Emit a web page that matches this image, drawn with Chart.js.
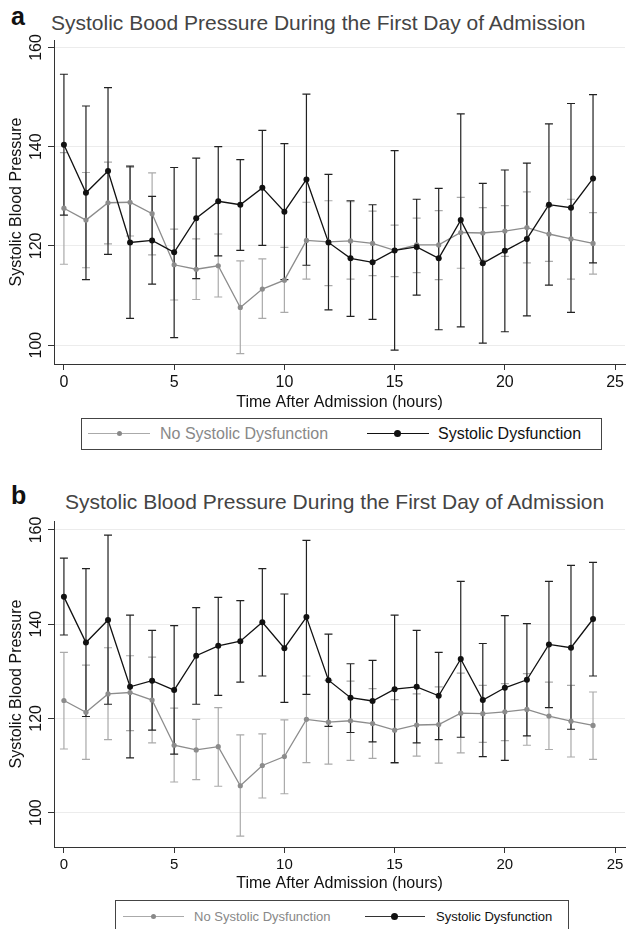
<!DOCTYPE html>
<html>
<head>
<meta charset="utf-8">
<script src="https://cdn.jsdelivr.net/npm/chart.js@4.4.1/dist/chart.umd.min.js"></script>
<style>
  body { margin: 0; background: #fff; font-family: "Liberation Sans", Arial, sans-serif; }
  #page { position: relative; width: 629px; height: 929px; overflow: hidden; }
  canvas { position: absolute; left: 0; }
  .abs { position: absolute; white-space: nowrap; }
  .letter { font-size: 25px; font-weight: bold; color: #111; line-height: 25px; }
  .title { font-size: 21px; color: #444; line-height: 21px; }
  .legbox { position: absolute; border: 1px solid #444; box-sizing: border-box; }
  .legline { position: absolute; height: 0; border-top: 1.3px solid; }
  .legdot { position: absolute; border-radius: 50%; }
</style>
</head>
<body>
<div id="page">
  <div class="abs letter" style="left:11px; top:4px;">a</div>
  <div class="abs title" style="left:51px; top:12px;">Systolic Bood Pressure During the First Day of Admission</div>
  <canvas id="chartA" width="629" height="412" style="top:0px"></canvas>

  <div class="legbox" style="left:81px; top:418px; width:521px; height:32px;"></div>
  <div class="legline" style="left:88px; top:433px; width:62px; border-color:#aaa;"></div>
  <div class="legdot" style="left:117px; top:431px; width:5px; height:5px; background:#888;"></div>
  <div class="abs" style="left:160px; top:426px; font-size:16px; line-height:16px; color:#888;">No Systolic Dysfunction</div>
  <div class="legline" style="left:367px; top:433px; width:62px; border-color:#111;"></div>
  <div class="legdot" style="left:394px; top:430px; width:7px; height:7px; background:#111;"></div>
  <div class="abs" style="left:438px; top:426px; font-size:16px; line-height:16px; color:#111;">Systolic Dysfunction</div>

  <div class="abs letter" style="left:11px; top:483px;">b</div>
  <div class="abs title" style="left:65px; top:491px;">Systolic Blood Pressure During the First Day of Admission</div>
  <canvas id="chartB" width="629" height="433" style="top:460px"></canvas>

  <div class="legbox" style="left:115px; top:900px; width:454px; height:32px;"></div>
  <div class="legline" style="left:123px; top:916px; width:61px; border-color:#aaa;"></div>
  <div class="legdot" style="left:151px; top:914px; width:5px; height:5px; background:#888;"></div>
  <div class="abs" style="left:194px; top:910px; font-size:13px; line-height:13px; color:#888;">No Systolic Dysfunction</div>
  <div class="legline" style="left:365px; top:916px; width:60px; border-color:#333;"></div>
  <div class="legdot" style="left:391px; top:913px; width:7px; height:7px; background:#111;"></div>
  <div class="abs" style="left:436px; top:910px; font-size:13px; line-height:13px; color:#111;">Systolic Dysfunction</div>
</div>

<script>
// hours after admission (x values) and axis ticks
const hours = [0, 1, 2, 3, 4, 5, 6, 7, 8, 9, 10, 11, 12, 13, 14, 15, 16, 17, 18, 19, 20, 21, 22, 23, 24];
const xTicks = [0, 5, 10, 15, 20, 25];
const yTicks = [100, 120, 140, 160];

// Panel a - Systolic Dysfunction (black)
const aSdMean = [140.4, 130.7, 135.1, 120.7, 121.1, 118.7, 125.6, 129.0, 128.3, 131.7, 126.9, 133.4, 120.7, 117.5, 116.7, 119.1, 119.8, 117.5, 125.2, 116.5, 119.0, 121.4, 128.3, 127.7, 133.6];
const aSdHigh = [154.6, 148.2, 151.9, 136.1, 130.0, 135.8, 137.7, 140.0, 137.4, 143.3, 140.6, 150.6, 134.4, 129.1, 128.3, 139.2, 129.4, 131.6, 146.6, 132.6, 135.3, 136.7, 144.6, 148.7, 150.5];
const aSdLow  = [126.2, 113.2, 118.3, 105.4, 112.3, 101.5, 113.4, 118.0, 119.1, 120.1, 113.2, 116.1, 107.1, 105.8, 105.2, 99.0, 110.1, 103.1, 103.7, 100.4, 102.7, 105.9, 112.1, 106.6, 116.6];

// Panel a - No Systolic Dysfunction (gray)
const aNoMean = [127.6, 125.2, 128.7, 128.8, 126.5, 116.2, 115.3, 116.0, 107.6, 111.3, 113.1, 121.1, 120.8, 121.0, 120.5, 119.1, 120.2, 120.2, 122.7, 122.6, 123.0, 123.7, 122.4, 121.4, 120.5];
const aNoHigh = [138.8, 134.8, 136.9, 135.8, 134.7, 123.4, 121.4, 122.4, 117.0, 117.4, 119.7, 128.8, 129.1, 128.9, 127.0, 124.2, 125.6, 127.1, 129.8, 127.7, 128.1, 130.9, 128.0, 129.4, 126.7];
const aNoLow  = [116.3, 115.6, 120.4, 122.0, 118.2, 109.1, 109.2, 109.7, 98.3, 105.4, 106.6, 113.3, 112.0, 113.3, 114.0, 113.8, 114.6, 113.2, 115.5, 117.1, 117.9, 116.6, 116.9, 113.3, 114.3];

// Panel b - Systolic Dysfunction (black)
const bSdMean = [145.8, 136.1, 140.9, 126.7, 128.0, 126.0, 133.3, 135.4, 136.4, 140.4, 134.9, 141.5, 128.1, 124.4, 123.7, 126.2, 126.7, 124.8, 132.6, 123.9, 126.5, 128.2, 135.7, 135.0, 141.1];
const bSdHigh = [154.0, 151.8, 158.9, 141.9, 138.7, 139.7, 143.5, 145.7, 145.0, 151.8, 146.4, 157.8, 137.9, 131.6, 132.3, 141.9, 138.7, 134.0, 149.1, 135.9, 141.8, 140.1, 149.1, 152.5, 153.1];
const bSdLow  = [137.7, 120.4, 123.0, 111.6, 117.5, 112.4, 123.0, 124.9, 127.7, 129.0, 123.4, 125.1, 118.3, 117.0, 115.0, 110.6, 114.8, 115.5, 116.0, 111.9, 111.1, 116.3, 122.3, 117.7, 129.0];

// Panel b - No Systolic Dysfunction (gray)
const bNoMean = [123.8, 121.3, 125.2, 125.5, 123.9, 114.3, 113.3, 114.0, 105.7, 110.0, 111.9, 119.8, 119.2, 119.5, 118.9, 117.5, 118.6, 118.7, 121.1, 121.0, 121.4, 121.9, 120.5, 119.4, 118.5];
const bNoHigh = [134.0, 131.3, 135.0, 133.3, 133.0, 122.2, 119.8, 122.3, 116.5, 116.7, 119.7, 129.0, 128.1, 127.9, 126.3, 124.0, 125.2, 126.7, 129.6, 127.0, 127.4, 129.5, 127.7, 127.0, 125.6];
const bNoLow  = [113.5, 111.3, 115.5, 117.4, 114.8, 106.5, 107.0, 105.6, 95.0, 103.1, 104.0, 110.6, 110.3, 111.1, 111.5, 110.5, 112.0, 110.5, 112.7, 114.9, 115.3, 114.3, 113.4, 111.8, 111.3];

// draws the confidence interval caps behind the lines
const errorBars = {
    id: 'errorBars',
    beforeDatasetsDraw(chart) {
        const ctx = chart.ctx;
        const x = chart.scales.x;
        const y = chart.scales.y;
        // last dataset first so the black series sits on top
        for (let d = chart.data.datasets.length - 1; d >= 0; d--) {
            const ds = chart.data.datasets[d];
            ctx.save();
            ctx.strokeStyle = ds.barColor;
            ctx.lineWidth = 1.2;
            ds.low.forEach((lo, i) => {
                const px = x.getPixelForValue(hours[i]);
                const top = y.getPixelForValue(ds.high[i]);
                const bot = y.getPixelForValue(lo);
                ctx.beginPath();
                ctx.moveTo(px, top); ctx.lineTo(px, bot);
                ctx.moveTo(px - 4, top); ctx.lineTo(px + 4, top);
                ctx.moveTo(px - 4, bot); ctx.lineTo(px + 4, bot);
                ctx.stroke();
            });
            ctx.restore();
        }
    }
};

function series(label, mean, low, high, color, barColor, radius) {
    return {
        label: label,
        data: hours.map((h, i) => ({ x: h, y: mean[i] })),
        low: low,
        high: high,
        barColor: barColor,
        borderColor: color,
        backgroundColor: color,
        borderWidth: 1.3,
        pointRadius: radius,
        pointBorderWidth: 0,
        tension: 0
    };
}

function makeChart(id, sets, o) {
    new Chart(document.getElementById(id), {
        type: 'line',
        data: { datasets: sets },
        plugins: [errorBars],
        options: {
            responsive: false,
            animation: false,
            devicePixelRatio: 1,
            layout: { padding: { top: o.top, left: 0, right: 0, bottom: 0 } },
            plugins: { legend: { display: false }, tooltip: { enabled: false } },
            scales: {
                x: {
                    type: 'linear',
                    min: -0.45,
                    max: 25.45,
                    afterBuildTicks: s => { s.ticks = xTicks.map(v => ({ value: v })); },
                    afterFit: s => { s.height = o.xHeight; },
                    border: { color: '#333', width: 1 },
                    grid: { drawOnChartArea: false, tickLength: 6, tickColor: '#333' },
                    ticks: { font: { size: o.tickSize, family: 'Liberation Sans' }, color: '#111', padding: 3, maxRotation: 0 },
                    title: { display: true, text: 'Time After Admission (hours)', color: '#111',
                             font: { size: 16, family: 'Liberation Sans' }, padding: { top: 0, bottom: 0 } }
                },
                y: {
                    min: o.yMin,
                    max: o.yMax,
                    afterBuildTicks: s => { s.ticks = yTicks.map(v => ({ value: v })); },
                    afterFit: s => { s.width = 54; },
                    border: { color: '#333', width: 1 },
                    grid: { color: '#ececec', tickLength: 6, tickColor: '#333' },
                    ticks: { font: { size: 16, family: 'Liberation Sans' }, color: '#111', minRotation: 90, maxRotation: 90,
                             crossAlign: 'center', padding: -2, autoSkip: false },
                    title: { display: true, text: 'Systolic Blood Pressure', color: '#111',
                             font: { size: 16, family: 'Liberation Sans' }, padding: { top: 7, bottom: 0 } }
                }
            }
        }
    });
}

makeChart('chartA', [
    series('Systolic Dysfunction', aSdMean, aSdLow, aSdHigh, '#111', '#222', 3),
    series('No Systolic Dysfunction', aNoMean, aNoLow, aNoHigh, '#8c8c8c', '#aaa', 2.6)
], { top: 40, xHeight: 48, tickSize: 16, yMin: 96.2, yMax: 161.5 });

makeChart('chartB', [
    series('Systolic Dysfunction', bSdMean, bSdLow, bSdHigh, '#111', '#222', 3),
    series('No Systolic Dysfunction', bNoMean, bNoLow, bNoHigh, '#8c8c8c', '#aaa', 2.6)
], { top: 61, xHeight: 46, tickSize: 15, yMin: 92.7, yMax: 161.9 });
</script>
</body>
</html>
